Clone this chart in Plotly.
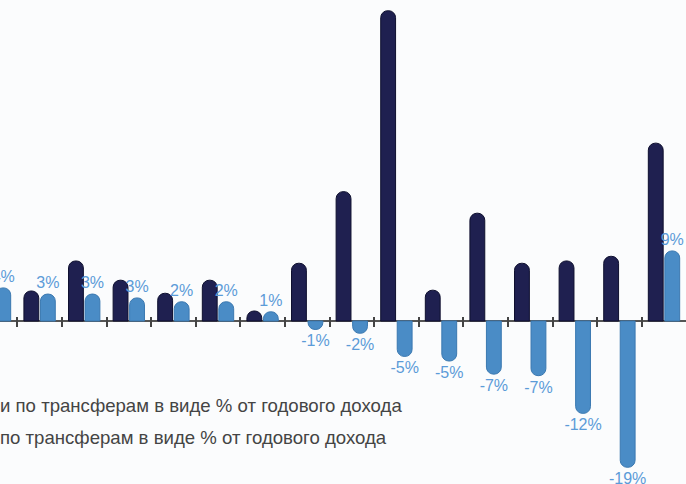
import plotly.graph_objects as go

groups = list(range(16))
dark_vals = [5.0, 3.9, 7.8, 5.3, 3.6, 5.3, 1.3, 7.5, 16.8, 40.3, 4.0, 14.0, 7.5, 7.8, 8.4, 23.1]
light_vals = [4.3, 3.5, 3.5, 3.0, 2.5, 2.5, 1.2, -1.1, -1.6, -4.6, -5.2, -6.9, -7.1, -12.0, -19.0, 9.1]
light_labels = ["4%", "3%", "3%", "3%", "2%", "2%", "1%", "-1%", "-2%", "-5%",
                "-5%", "-7%", "-7%", "-12%", "-19%", "9%"]
legend_lines = ["и по трансферам в виде % от годового дохода",
                "по трансферам в виде % от годового дохода"]

W, H = 686, 484
baseline_px = 321
px_per_unit = 7.7
y_top = baseline_px / px_per_unit
y_bot = -(H - baseline_px) / px_per_unit

fig = go.Figure()
fig.add_trace(go.Bar(
    x=groups, y=dark_vals, name=legend_lines[0],
    marker=dict(color="#1f2050", line=dict(color="#0e0f2e", width=1), cornerradius=7),
))
fig.add_trace(go.Bar(
    x=groups, y=light_vals, name=legend_lines[1],
    marker=dict(color="#4a8cc6", line=dict(color="#3a78b0", width=1), cornerradius=7),
    text=light_labels, textposition="outside", constraintext="none", cliponaxis=False,
    textfont=dict(family="Liberation Sans, Arial", size=16, color="#5b9bd8"),
))

for i, line in enumerate(legend_lines):
    fig.add_annotation(
        text=line, xref="paper", yref="paper", x=0, y=(H - (405 + 32 * i)) / H,
        xanchor="left", yanchor="middle", showarrow=False, xshift=-2,
        font=dict(family="Liberation Sans, Arial", size=18.6, color="#444444"),
    )

fig.update_layout(
    width=W, height=H,
    margin=dict(l=0, r=0, t=0, b=0, autoexpand=False),
    paper_bgcolor="#fbfcfd", plot_bgcolor="#fbfcfd",
    barmode="group", bargap=0.26, bargroupgap=0.1,
    showlegend=False,
    xaxis=dict(
        range=[5 / 44.6, 5 / 44.6 + W / 44.6],
        tickmode="array", tickvals=[g + 0.5 for g in groups],
        ticks="outside", ticklen=10, tickwidth=1.5, tickcolor="#444444",
        showticklabels=False, showgrid=False, showline=False, zeroline=False,
        anchor="free", position=(H - (baseline_px - 5)) / H, automargin=False,
    ),
    yaxis=dict(
        range=[y_bot, y_top], showticklabels=False, showgrid=False, showline=False,
        zeroline=True, zerolinecolor="#555555", zerolinewidth=1.5, ticks="",
        automargin=False,
    ),
)

fig.write_html("out.html", config={"displayModeBar": False},
               post_script="document.body.style.margin='0';document.body.style.background='#fbfcfd';")
